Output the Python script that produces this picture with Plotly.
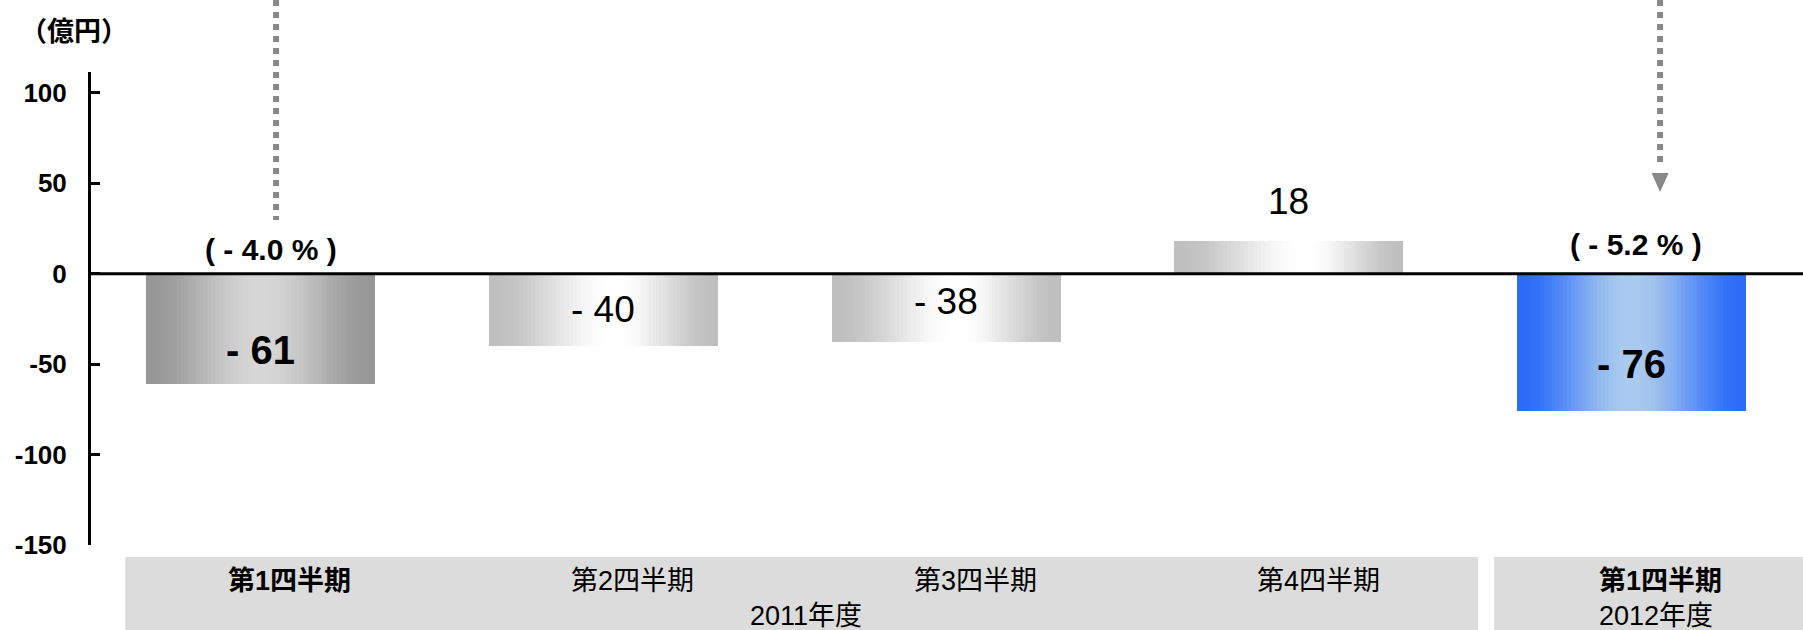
import plotly.graph_objects as go

# ---- data -------------------------------------------------------------
quarters = ["第1四半期", "第2四半期", "第3四半期", "第4四半期", "第1四半期"]
fiscal_years = ["2011年度", "2012年度"]
operating_profit = [-61, -40, -38, 18, -76]          # 億円
margin_text = ["( - 4.0 % )", "( - 5.2 % )"]         # for the two first quarters
y_tick_values = [-150, -100, -50, 0, 50, 100]
unit_label = "（億円）"

# ---- geometry / style ---------------------------------------------------
FIG_W, FIG_H = 1803, 630
M_L, M_R, M_T, M_B = 91, 0, 72, 85
X_RANGE = [-0.495, 4.5]
Y_RANGE = [-150, 111.6]
BAR_W = 0.668
N_LAYERS = 30

FONT = "Liberation Sans, Arial, Noto Sans CJK JP, sans-serif"
BOLD_IDX = {0, 4}

# edge colour, centre colour, horizontal position of the lightest band
EDGE = ["#979797", "#bfbfbf", "#bfbfbf", "#bfbfbf", "#2a6cf8"]
CENTER = ["#d6d6d6", "#ffffff", "#ffffff", "#ffffff", "#a9caee"]
PEAK = [0.5, 0.55, 0.55, 0.57, 0.5]

LABEL_YSHIFT = [-21, 0, 7, 40, -22]
LABEL_FONT = [40, 37, 37, 37, 40]

x_pos = list(range(len(quarters)))


def _rgb(h):
    h = h.lstrip("#")
    return tuple(int(h[i:i + 2], 16) for i in (0, 2, 4))


def mix(a, b, t):
    ra, rb = _rgb(a), _rgb(b)
    return "rgb(%d,%d,%d)" % tuple(round(ra[i] + (rb[i] - ra[i]) * t) for i in range(3))


def ease(t):
    return t * t * (3 - 2 * t)


fig = go.Figure()

# Bars with a horizontal shading: nested overlaid bars, each a little
# narrower and lighter, converging on the brightest column.
for k in range(N_LAYERS):
    frac = k / N_LAYERS
    tcol = ease(k / (N_LAYERS - 1))
    widths, offsets, colors = [], [], []
    for j in range(len(quarters)):
        widths.append(BAR_W * (1 - frac))
        offsets.append(-BAR_W / 2 + BAR_W * PEAK[j] * frac)
        colors.append(mix(EDGE[j], CENTER[j], tcol))
    fig.add_trace(go.Bar(
        x=x_pos, y=operating_profit, width=widths, offset=offsets,
        marker=dict(color=colors, line=dict(width=0)),
        showlegend=False,
        hoverinfo="skip" if k else "y",
    ))

annotations = []

# value labels
for j, v in enumerate(operating_profit):
    txt = f"- {abs(v)}" if v < 0 else f"{v}"
    if j in BOLD_IDX:
        txt = f"<b>{txt}</b>"
    annotations.append(dict(
        x=x_pos[j], y=v / 2 if v < 0 else v, xref="x", yref="y",
        text=txt, showarrow=False, yanchor="middle",
        yshift=LABEL_YSHIFT[j],
        font=dict(family=FONT, size=LABEL_FONT[j], color="black"),
    ))

# margin ratios above the two first-quarter bars
for (j, txt, xs, ys) in [(0, margin_text[0], 10, 24), (4, margin_text[1], 4, 29)]:
    annotations.append(dict(
        x=x_pos[j], y=0, xref="x", yref="y", text=f"<b>{txt}</b>",
        showarrow=False, yanchor="middle", xshift=xs, yshift=ys,
        font=dict(family=FONT, size=30, color="black"),
    ))

# category labels in the grey bands
for j, q in enumerate(quarters):
    txt = f"<b>{q}</b>" if j in BOLD_IDX else q
    annotations.append(dict(
        x=x_pos[j] + 0.085, y=0, xref="x", yref="paper", text=txt,
        showarrow=False, yanchor="middle", yshift=-36,
        font=dict(family=FONT, size=27, color="black"),
    ))

for fy, xc in zip(fiscal_years, [1.59, 4.07]):
    annotations.append(dict(
        x=xc, y=0, xref="x", yref="paper", text=fy,
        showarrow=False, yanchor="middle", yshift=-71,
        font=dict(family=FONT, size=27, color="black"),
    ))

# unit label
annotations.append(dict(
    x=0, y=1, xref="paper", yref="paper", text=f"<b>{unit_label}</b>",
    showarrow=False, xanchor="center", yanchor="middle", xshift=-17, yshift=40,
    font=dict(family=FONT, size=27, color="black"),
))

shapes = []
# grey category bands
for x0, x1 in [(-0.395, 3.552), (3.599, 4.5)]:
    shapes.append(dict(
        type="rect", xref="x", x0=x0, x1=x1,
        yref="paper", ysizemode="pixel", yanchor=0, y0=-12, y1=-M_B,
        fillcolor="#dcdcdc", line=dict(width=0), layer="below",
    ))

# dotted pointers coming from above
for xp, drop in [(0.045, 220), (4.083, 168)]:
    shapes.append(dict(
        type="line", xref="x", x0=xp, x1=xp,
        yref="paper", ysizemode="pixel", yanchor=1, y0=M_T, y1=M_T - drop,
        line=dict(color="#888888", width=6, dash="6px,6px"),
    ))
shapes.append(dict(
    type="path", xref="x", xsizemode="pixel", xanchor=4.083,
    yref="paper", ysizemode="pixel", yanchor=1,
    path=f"M -8.5,{M_T - 173} L 8.5,{M_T - 173} L 0,{M_T - 192} Z",
    fillcolor="#888888", line=dict(width=0),
))

# zero line
shapes.append(dict(
    type="line", xref="paper", x0=0, x1=1, yref="y", y0=0, y1=0,
    line=dict(color="black", width=3), layer="above",
))

fig.update_layout(
    width=FIG_W, height=FIG_H,
    margin=dict(l=M_L, r=M_R, t=M_T, b=M_B, pad=0),
    paper_bgcolor="white", plot_bgcolor="white",
    barmode="overlay", bargap=0,
    annotations=annotations, shapes=shapes,
    font=dict(family=FONT, color="black"),
    xaxis=dict(range=X_RANGE, visible=False, fixedrange=True),
    yaxis=dict(
        range=Y_RANGE, tickvals=y_tick_values,
        ticktext=[f"<b>{v}</b>" for v in y_tick_values],
        showgrid=False, zeroline=False,
        showline=True, linecolor="black", linewidth=3,
        ticks="inside", ticklen=9, tickwidth=2.5, tickcolor="black",
        ticklabelstandoff=16,
        tickfont=dict(family=FONT, size=26, color="black"),
        fixedrange=True,
    ),
)

fig.write_html("out.html")
